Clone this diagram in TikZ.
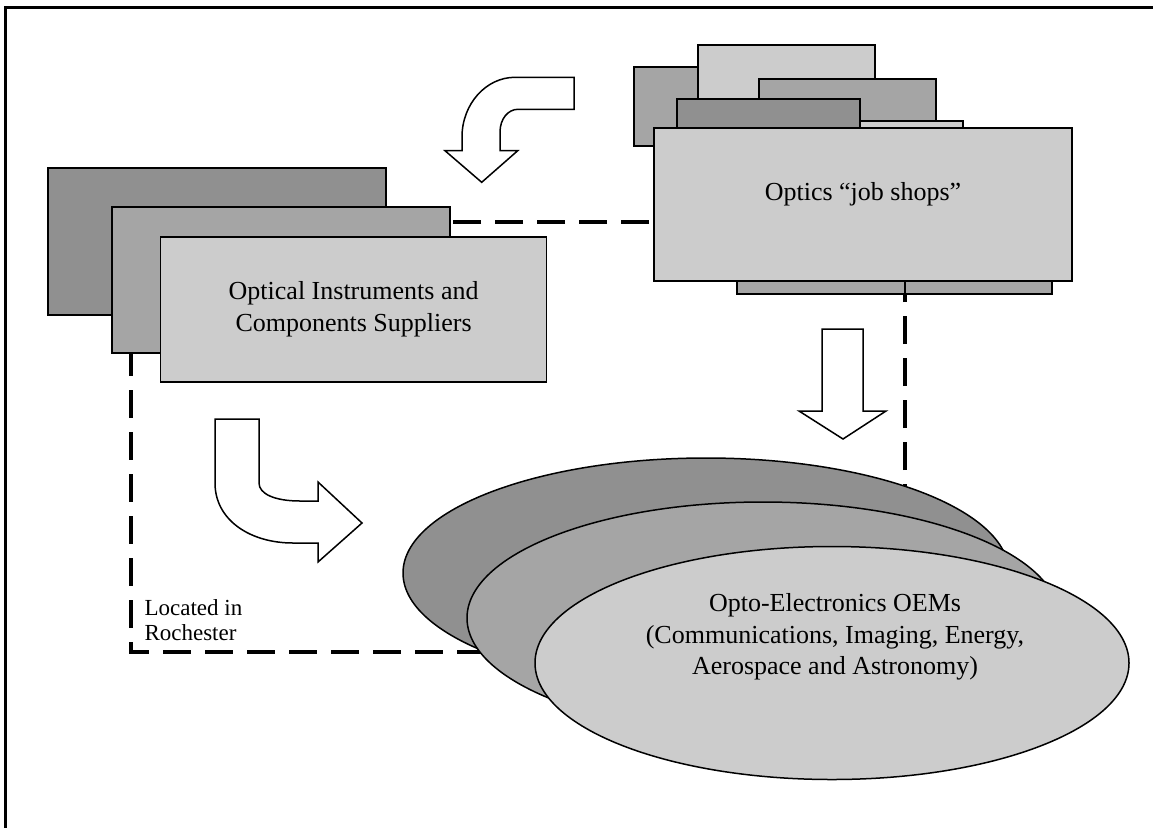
\documentclass[tikz,border=0pt]{standalone}
\usepackage{fontspec}
\setmainfont{Liberation Serif}
\usepackage{tikz}
\usetikzlibrary{shapes.geometric, positioning}

\definecolor{darkgrey}{gray}{0.565}
\definecolor{midgrey}{gray}{0.647}
\definecolor{lightgrey}{gray}{0.8}

\begin{document}
\begin{tikzpicture}[x=1pt, y=-1pt, line join=miter]
    \tikzstyle{layer}=[shape=rectangle, draw=black, line width=1.5pt, inner sep=0pt, text=black]
    \tikzstyle{oval}=[shape=ellipse, draw=black, line width=1.5pt, inner sep=0pt]
    \tikzstyle{blockarrow}=[draw=black, fill=white, line width=1.5pt]
    \tikzstyle{region}=[draw=black, line width=3.2pt, dash pattern=on 28pt off 14pt]
    \tikzstyle{every node}=[font=\fontsize{26}{31.5}\selectfont, align=center]

    \useasboundingbox (0,0) rectangle (1153,828);

    % frame
    \draw[line width=3pt] (1153,7.5) -- (5.5,7.5) -- (5.5,828);

    % located in Rochester
    \draw[region] (131,222) rectangle (905,652);

    % suppliers
    \node[layer, fill=darkgrey,  minimum width=338,   minimum height=147]   (ois3) at (216.8,241.5) {};
    \node[layer, fill=midgrey,   minimum width=337.7, minimum height=146.3] (ois2) at (280.9,279.9) {};
    \node[layer, fill=lightgrey, minimum width=385.8, minimum height=145.3] (ois1) at (353.6,309.4)
        {Optical Instruments and\\Components Suppliers};

    % job shops
    \node[layer, fill=midgrey,   minimum width=86,  minimum height=79] (jsA) at (677,106.5) {};
    \node[layer, fill=lightgrey, minimum width=177, minimum height=65] (jsB) at (786.5,77.5) {};
    \node[layer, fill=midgrey,   minimum width=177, minimum height=46] (jsC) at (847.5,102) {};
    \node[layer, fill=lightgrey, minimum width=118, minimum height=14] (jsE) at (904,128) {};
    \node[layer, fill=darkgrey,  minimum width=183, minimum height=36] (jsD) at (768.5,117) {};
    \node[layer, fill=midgrey,   minimum width=168, minimum height=24] (jsF) at (821,282) {};
    \node[layer, fill=midgrey,   minimum width=147, minimum height=24] (jsG) at (978.5,282) {};
    \node[layer, fill=lightgrey, minimum width=418, minimum height=153] (jobs) at (863,204.5) {};
    \node (jobsLabel) at (863,194) {Optics “job shops”};

    % OEMs
    \node[oval, fill=darkgrey,  minimum width=606, minimum height=230] (oem3) at (706,573) {};
    \node[oval, fill=midgrey,   minimum width=592, minimum height=232] (oem2) at (763,618) {};
    \node[oval, fill=lightgrey, minimum width=594, minimum height=233] (oem1) at (832,663) {};
    \node (oemLabel) at (835,637)
        {Opto-Electronics OEMs\\(Communications, Imaging, Energy,\\Aerospace and Astronomy)};

    \node[anchor=west, align=left, font=\fontsize{23}{25}\selectfont] (loc) at (141,620) {Located in\\Rochester};

    % block arrows
    \draw[blockarrow] (574,77.3) -- (515,77.3) .. controls (486,77.3) and (462,104) .. (462,137) -- (462,150.7)
        -- (445,150.7) -- (481.7,182.3) -- (517.7,150.7) -- (500,150.7) -- (500,132)
        .. controls (500,119) and (508,109.3) .. (518,109.3) -- (574,109.3) -- cycle;
    \draw[blockarrow] (215,419) -- (259,419) -- (259,483) .. controls (259,494) and (275,501) .. (300,501)
        -- (318,501) -- (318,482) -- (362,523) -- (318,562) -- (318,543) -- (293,543)
        .. controls (250,543) and (215,520) .. (215,483) -- cycle;
    \draw[blockarrow] (822,329) -- (863,329) -- (863,411) -- (886,411) -- (843,439) -- (799,411) -- (822,411) -- cycle;

\end{tikzpicture}
\end{document}
